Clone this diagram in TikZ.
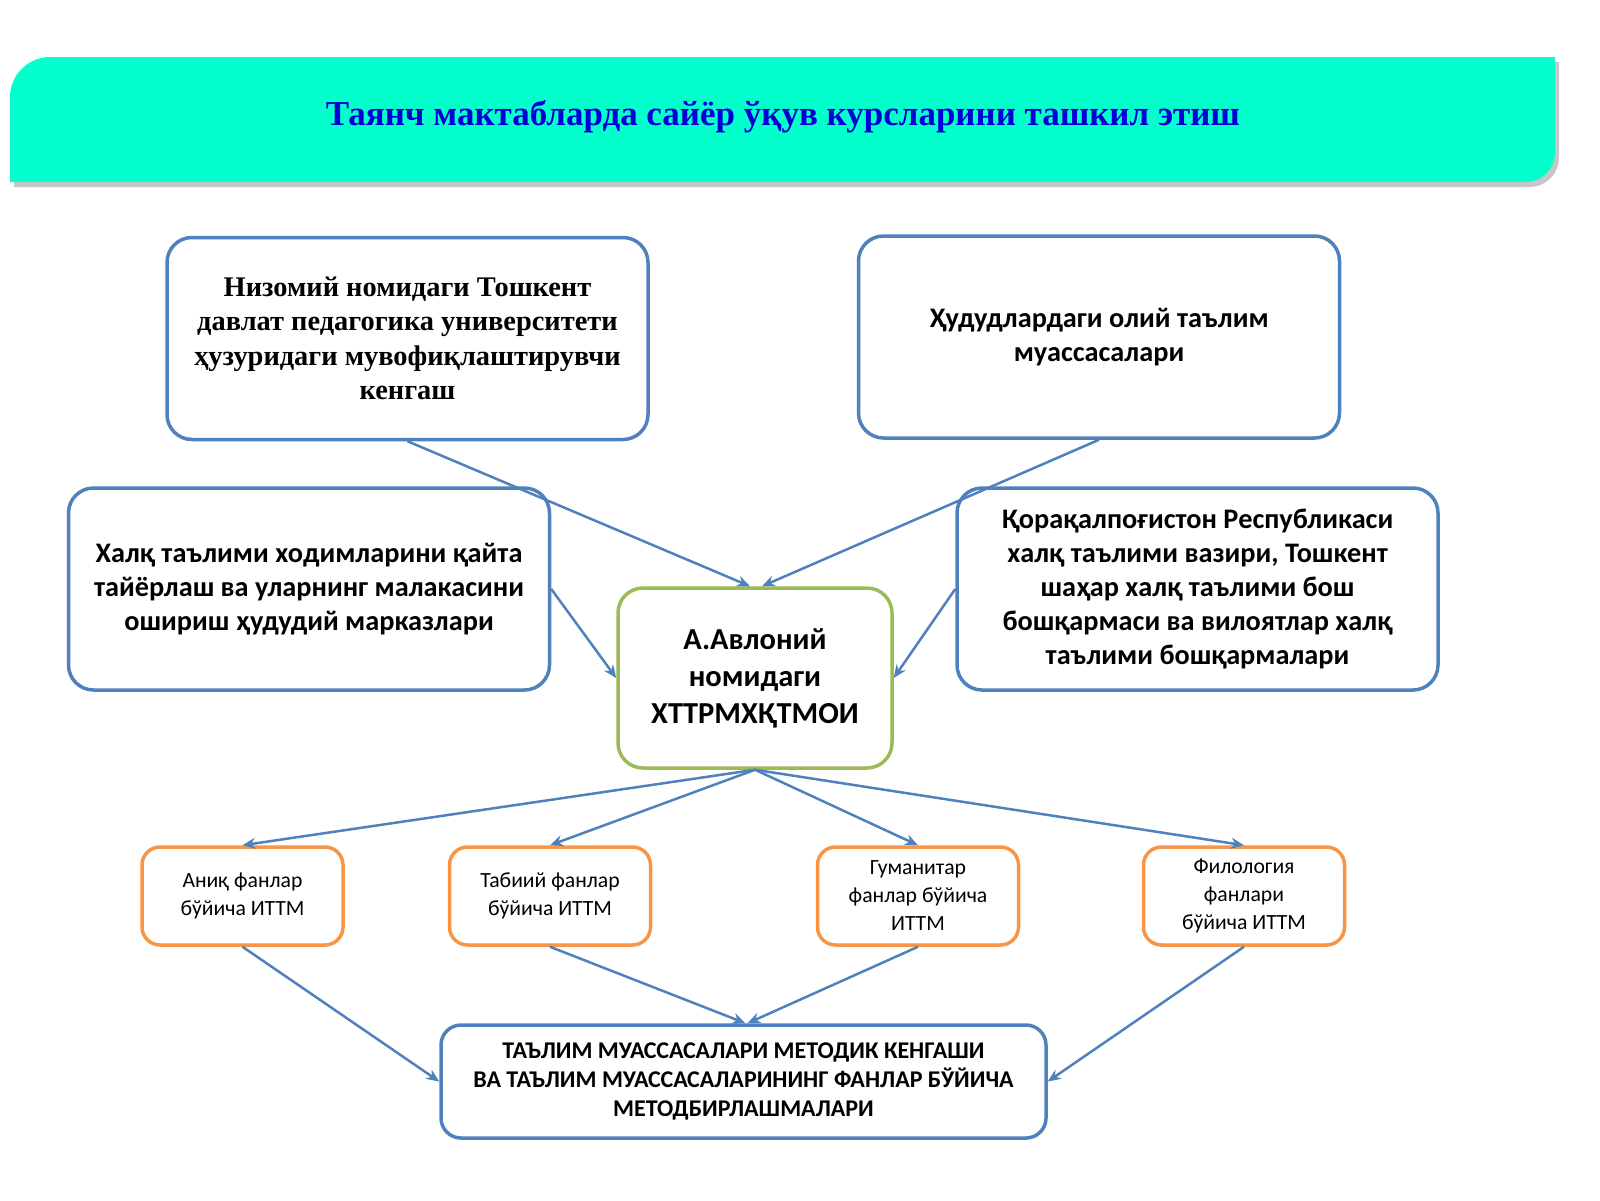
\documentclass[tikz,border=0pt]{standalone}
\usepackage{fontspec}
\setmainfont{Liberation Serif}
\newfontfamily\calibri{Carlito}
\usetikzlibrary{arrows.meta}

\definecolor{banner}{RGB}{3,255,204}
\definecolor{titleblue}{RGB}{0,0,215}
\definecolor{boxblue}{RGB}{79,129,189}
\definecolor{boxgreen}{RGB}{155,187,89}
\definecolor{boxorange}{RGB}{247,150,70}

\newcommand{\bannerpath}{(10,182) -- (10,97) .. controls (10,75) and (28,57) .. (50,57) -- (1555,57)
        -- (1555,152) .. controls (1555,169) and (1542,182) .. (1525,182) -- cycle}

\tikzset{
  box/.style={rectangle, rounded corners=25pt, line width=3.5pt, fill=white, align=center, inner sep=0pt},
  bluebox/.style={box, draw=boxblue, minimum width=481pt, minimum height=202pt,
    font=\calibri\bfseries\fontsize{28.3}{34}\selectfont},
  greenbox/.style={box, draw=boxgreen, minimum width=274pt, minimum height=180pt,
    font=\calibri\bfseries\fontsize{30.5}{37}\selectfont},
  orangebox/.style={box, rounded corners=18pt, draw=boxorange, minimum width=201pt, minimum height=98pt,
    font=\calibri\fontsize{21.7}{28}\selectfont},
  arrow/.style={-{Stealth[length=13pt,width=11pt]}, line width=2.5pt, draw=boxblue}
}

\begin{document}
\begin{tikzpicture}[x=1pt, y=-1pt]
    \useasboundingbox (0,0) rectangle (1600,1200);

    % title banner
    \begin{scope}[shift={(4,5)}]
        \fill[black, opacity=0.22] \bannerpath;
    \end{scope}
    \fill[banner] \bannerpath;
    \node (title) at (783,117) [font=\bfseries\fontsize{35}{40}\selectfont, text=titleblue]
        {Таянч мактабларда сайёр ўқув курсларини ташкил этиш};

    % upper boxes
    \node (niz) at (407.5,338.5) [bluebox, font=\bfseries\fontsize{28.4}{34.3}\selectfont]
        {Низомий номидаги Тошкент\\давлат педагогика университети\\ҳузуридаги мувофиқлаштирувчи\\кенгаш};
    \node (hud) at (1099,337) [bluebox] {Ҳудудлардаги олий таълим\\муассасалари};
    \node (xalq) at (309,589) [bluebox]
        {Халқ таълими ходимларини қайта\\тайёрлаш ва уларнинг малакасини\\ошириш ҳудудий марказлари};
    \node (qor) at (1197.5,589) [bluebox]
        {Қорақалпоғистон Республикаси\\халқ таълими вазири, Тошкент\\шаҳар халқ таълими бош\\бошқармаси ва вилоятлар халқ\\таълими бошқармалари};

    % centre
    \node (avl) at (755,678) [greenbox] {А.Авлоний\\номидаги\\ХТТРМХҚТМОИ};

    % subject centres
    \node (aniq) at (242.5,896) [orangebox] {Аниқ фанлар\\бўйича ИТТМ};
    \node (tab) at (550,896) [orangebox] {Табиий фанлар\\бўйича ИТТМ};
    \node (gum) at (918,896) [orangebox] {Гуманитар\\фанлар бўйича\\ИТТМ};
    \node (fil) at (1244,896) [orangebox] {Филология\\фанлари\\бўйича ИТТМ};

    % bottom box
    \node (met) at (743.5,1081.5) [box, rounded corners=20pt, draw=boxblue, minimum width=605pt, minimum height=113pt,
        font=\calibri\bfseries\fontsize{24}{29}\selectfont]
        {ТАЪЛИМ МУАССАСАЛАРИ МЕТОДИК КЕНГАШИ\\ВА ТАЪЛИМ МУАССАСАЛАРИНИНГ ФАНЛАР БЎЙИЧА\\МЕТОДБИРЛАШМАЛАРИ};

    % connectors
    \draw[arrow] (niz.south) -- ([xshift=-5pt]avl.north);
    \draw[arrow] (hud.south) -- ([xshift=7pt]avl.north);
    \draw[arrow] (xalq.east) -- (avl.west);
    \draw[arrow] (qor.west) -- (avl.east);
    \draw[arrow] (avl.south) -- (aniq.north);
    \draw[arrow] (avl.south) -- (tab.north);
    \draw[arrow] (avl.south) -- (gum.north);
    \draw[arrow] (avl.south) -- (fil.north);
    \draw[arrow] (aniq.south) -- (met.west);
    \draw[arrow] (tab.south) -- ([xshift=2pt]met.north);
    \draw[arrow] (gum.south) -- ([xshift=4pt]met.north);
    \draw[arrow] (fil.south) -- (met.east);
\end{tikzpicture}
\end{document}
